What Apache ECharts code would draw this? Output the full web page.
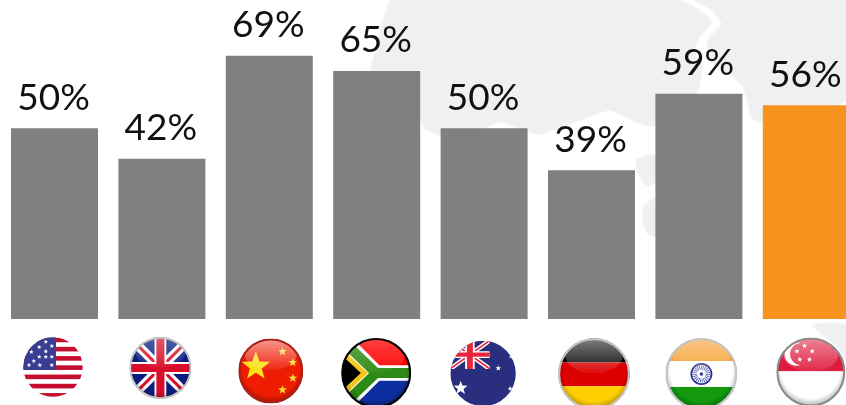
<!DOCTYPE html>
<html>
<head>
<meta charset="utf-8">
<style>html,body{margin:0;padding:0;background:#fff}#chart{width:846px;height:405px;overflow:hidden}</style>
<script src="https://cdn.jsdelivr.net/npm/echarts@6/dist/echarts.min.js"></script>
</head>
<body>
<div id="chart"></div>
<script>
// Share of respondents per country
const countries = ['USA', 'UK', 'China', 'South Africa', 'Australia', 'Germany', 'India', 'Singapore'];
const shares = [50, 42, 69, 65, 50, 39, 59, 56];
const highlighted = 'Singapore';

const GREY = '#808080';
const ORANGE = '#f7931e';
const LAND = '#eff0f2';

// Five-pointed star as an SVG polygon
function star(cx, cy, r, fill) {
  const pts = [];
  for (let i = 0; i < 10; i++) {
    const a = -Math.PI / 2 + i * Math.PI / 5;
    const q = i % 2 ? r * 0.42 : r;
    pts.push((cx + q * Math.cos(a)).toFixed(1) + ',' + (cy + q * Math.sin(a)).toFixed(1));
  }
  return `<polygon points="${pts.join(' ')}" fill="${fill}"/>`;
}

const UNION = `
  <rect width="100" height="100" fill="#0a1f80"/>
  <path d="M0 0L100 100M100 0L0 100" stroke="#fff" stroke-width="15"/>
  <path d="M0 0L100 100M100 0L0 100" stroke="#d8102c" stroke-width="5"/>
  <path d="M50 0V100M0 50H100" stroke="#fff" stroke-width="19"/>
  <path d="M50 0V100M0 50H100" stroke="#d8102c" stroke-width="13"/>`;

function usStripes() {
  let s = '<rect width="100" height="100" fill="#fff"/>';
  [0, 2, 4, 6, 8, 10, 12].forEach(function (i) {
    s += `<rect y="${(i * 7.7 + 1).toFixed(1)}" width="100" height="7.7" fill="#c5102f"/>`;
  });
  s += '<rect width="55" height="55" fill="#3a3c92"/>';
  [[38, 8], [48, 15], [27, 17], [14, 25], [27, 33], [38, 33], [48, 33], [10, 47], [28, 47], [48, 47], [18, 40], [38, 24]].forEach(function (p) {
    s += star(p[0], p[1], 4, '#fff');
  });
  return s;
}

// Artwork of each round flag, on a 100×100 canvas
const flagArt = {
  USA: { gloss: 0, ring: 'none', art: usStripes() },
  UK: { gloss: 0.3, ring: '#c4c4c4', art: UNION },
  China: {
    gloss: 0.55, ring: '#a8231b',
    art: '<rect width="100" height="100" fill="#ee1c04"/>' +
      star(27, 43, 23, '#fbe217') + star(68, 20, 7, '#f4d92d') + star(84, 37, 7, '#f4d92d') +
      star(84, 61, 7, '#f4d92d') + star(68, 79, 7, '#f4d92d')
  },
  'South Africa': {
    gloss: 0.25, ring: '#000',
    art: `<rect width="100" height="50" fill="#f00"/><rect y="50" width="100" height="50" fill="#0a2f9e"/>
      <path d="M5 5L50 50H100M5 95L50 50" fill="none" stroke="#fff" stroke-width="22"/>
      <path d="M0 2L50 50H100M0 98L50 50" fill="none" stroke="#2f8a12" stroke-width="14"/>
      <path d="M0 14L38 50L0 86Z" fill="#f6c516"/>
      <path d="M0 24L28 50L0 76Z" fill="#000"/>`
  },
  Australia: {
    gloss: 0, ring: 'none',
    art: '<rect width="100" height="100" fill="#2a2f7e"/>' +
      '<svg x="0" y="0" width="60" height="43" viewBox="0 0 100 100" preserveAspectRatio="none">' +
      '<path d="M0 0L100 100M100 0L0 100" stroke="#fff" stroke-width="14"/><path d="M0 0L100 100M100 0L0 100" stroke="#e8283c" stroke-width="5"/>' +
      '<path d="M50 0V100M0 50H100" stroke="#fff" stroke-width="24"/><path d="M50 0V100M0 50H100" stroke="#e8283c" stroke-width="15"/></svg>' +
      star(16, 72, 11, '#fff') + star(73, 42, 4.5, '#fff') + star(91, 73, 4, '#fff') + star(92, 25, 3, '#fff')
  },
  Germany: {
    gloss: 0.5, ring: '#c4c4c4',
    art: '<rect width="100" height="34" fill="#000"/><rect y="34" width="100" height="33" fill="#dd0000"/><rect y="67" width="100" height="33" fill="#ffcf00"/>'
  },
  India: {
    gloss: 0.4, ring: '#c4c4c4',
    art: '<rect width="100" height="32" fill="#f7a033"/><rect y="32" width="100" height="36" fill="#fff"/><rect y="68" width="100" height="32" fill="#129a0c"/>' +
      '<circle cx="50" cy="50" r="14" fill="#fff" stroke="#2c3394" stroke-width="2.5"/>' +
      '<circle cx="50" cy="50" r="9" fill="none" stroke="#5a60b0" stroke-width="6" stroke-dasharray="1.2 1.2"/>' +
      '<circle cx="50" cy="50" r="2.5" fill="#2c3394"/>'
  },
  Singapore: {
    gloss: 0.45, ring: '#8a8a8a',
    art: '<rect width="100" height="49" fill="#de1f3f"/><rect y="49" width="100" height="51" fill="#fff"/>' +
      '<circle cx="29" cy="24" r="17" fill="#fff"/><circle cx="36" cy="24" r="16" fill="#de1f3f"/>' +
      star(41, 12, 4, '#fff') + star(52, 20, 4, '#fff') + star(48, 32, 4, '#fff') + star(34, 32, 4, '#fff') + star(30, 20, 4, '#fff')
  }
};

// Each badge sits on its own spot under the bar: x shift, drop below the baseline, radius
const flagPlacement = {
  USA: [-1.5, 48, 30],
  UK: [-1.5, 49, 31],
  China: [1.5, 52, 32.5],
  'South Africa': [-0.5, 54, 35],
  Australia: [-1, 54.5, 33],
  Germany: [2.5, 55, 36],
  India: [2.5, 55, 36],
  Singapore: [4.5, 53, 34.5]
};

function flagImage(name, idx) {
  const f = flagArt[name];
  const gloss = f.gloss
    ? `<ellipse cx="50" cy="25" rx="40" ry="24" fill="url(#g${idx})"/>
       <circle cx="50" cy="50" r="49" fill="url(#e${idx})"/>`
    : '';
  const ring = f.ring === 'none' ? '' :
    `<circle cx="50" cy="50" r="48.5" fill="none" stroke="${f.ring}" stroke-width="3"/>`;
  const svg = `<svg xmlns="http://www.w3.org/2000/svg" width="200" height="200" viewBox="0 0 100 100">
    <defs>
      <clipPath id="c${idx}"><circle cx="50" cy="50" r="49.5"/></clipPath>
      <linearGradient id="g${idx}" x1="0" y1="0" x2="0" y2="1">
        <stop offset="0" stop-color="#fff" stop-opacity="${f.gloss}"/>
        <stop offset="1" stop-color="#fff" stop-opacity="0.05"/>
      </linearGradient>
      <radialGradient id="e${idx}" cx="0.5" cy="0.45" r="0.55">
        <stop offset="0.8" stop-color="#000" stop-opacity="0"/>
        <stop offset="1" stop-color="#000" stop-opacity="0.3"/>
      </radialGradient>
      <filter id="s${idx}"><feGaussianBlur stdDeviation="0.7"/></filter>
    </defs>
    <g filter="url(#s${idx})"><g clip-path="url(#c${idx})">${f.art}${gloss}</g>${ring}</g>
  </svg>`;
  return 'data:image/svg+xml;charset=utf-8,' + encodeURIComponent(svg);
}
const flagImages = countries.map(flagImage);

// Pale landmass behind the bars
const landShapes = [
  [[392, 0], [384, 18], [376, 48], [370, 75], [378, 92], [392, 100], [420, 116], [424, 128], [442, 136], [470, 134], [500, 122],
   [540, 134], [590, 116], [610, 110], [636, 122], [656, 126], [680, 110], [698, 90], [702, 66], [694, 50], [700, 36], [712, 22], [696, 8], [676, 0]],
  [[694, 0], [712, 10], [722, 24], [708, 40], [710, 60], [730, 74], [744, 88], [752, 118], [763, 122], [846, 100], [846, 0]],
  [[636, 160], [656, 155], [656, 182], [648, 186], [640, 178]],
  [[644, 206], [656, 198], [656, 236], [648, 234], [643, 222]],
  [[812, 325], [846, 325], [846, 360], [836, 345]]
];

const chart = echarts.init(document.getElementById('chart'), null, { renderer: 'canvas' });
chart.setOption({
  animation: false,
  backgroundColor: '#fff',
  graphic: landShapes.map(function (pts) {
    return { type: 'polygon', z: -10, silent: true, shape: { points: pts, smooth: 0.15 }, style: { fill: LAND, shadowBlur: 3, shadowColor: LAND } };
  }),
  grid: { left: 0.8, top: 0, width: 859.2, height: 319, outerBoundsMode: 'none' },
  xAxis: {
    type: 'category',
    data: countries,
    axisLine: { show: false },
    axisTick: { show: false },
    axisLabel: { show: false }
  },
  yAxis: { type: 'value', min: 0, max: 83.6, show: false, splitLine: { show: false } },
  series: [
    {
      type: 'bar',
      barWidth: 87,
      data: shares.map(function (v, i) {
        return { value: v, itemStyle: { color: countries[i] === highlighted ? ORANGE : GREY } };
      }),
      label: {
        show: true,
        position: 'top',
        distance: 12,
        formatter: '{c}%',
        color: '#111',
        fontFamily: 'Lato',
        fontWeight: 400,
        fontSize: 37,
        offset: [-1, 0]
      }
    },
    {
      type: 'custom',
      silent: true,
      clip: false,
      data: countries.map(function (c, i) { return [i, 0]; }),
      encode: { x: 0, y: 1 },
      renderItem: function (params, api) {
        const i = api.value(0);
        const base = api.coord([i, 0]);
        const p = flagPlacement[countries[i]];
        return {
          type: 'image',
          style: {
            image: flagImages[i],
            x: base[0] + p[0] - p[2],
            y: base[1] + p[1] - p[2],
            width: p[2] * 2,
            height: p[2] * 2
          }
        };
      }
    }
  ]
});
</script>
</body>
</html>
